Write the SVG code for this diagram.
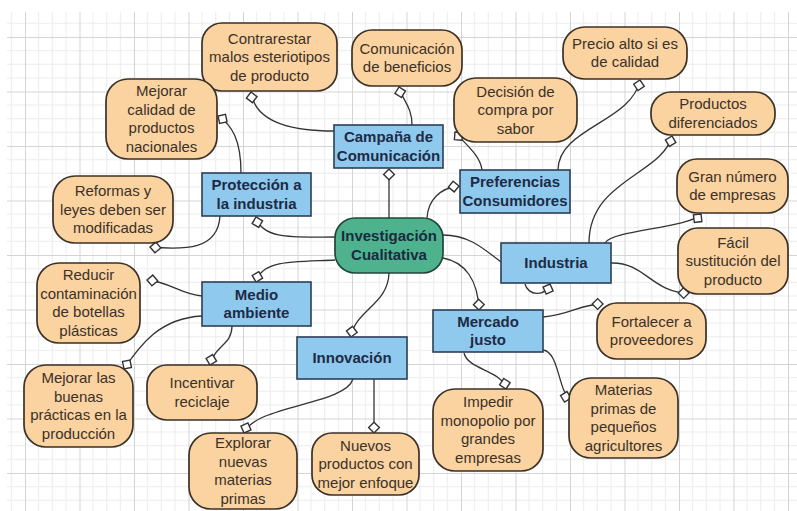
<svg xmlns="http://www.w3.org/2000/svg" width="797" height="511" viewBox="0 0 797 511">
<defs>
<pattern id="grid" patternUnits="userSpaceOnUse" x="25" y="37" width="54.5" height="54.5">
<path d="M13.6,0V54.5M27.25,0V54.5M40.9,0V54.5M0,13.6H54.5M0,27.25H54.5M0,40.9H54.5" stroke="#ebebeb" stroke-width="1" fill="none"/>
<path d="M0.5,0V54.5M0,0.5H54.5" stroke="#d4d4d4" stroke-width="1" fill="none"/>
</pattern>
<marker id="dia" markerUnits="userSpaceOnUse" markerWidth="14" markerHeight="14" viewBox="-1 -1 13 12" refX="10" refY="5" orient="auto">
<path d="M0,5 L5,0 L10,5 L5,10 Z" fill="#fff" stroke="#333" stroke-width="1.3"/>
</marker>
</defs>
<style>
.leaf rect{fill:#fbd3a0;stroke:#3b3127;stroke-width:1.7}
.leaf text{font-family:"Liberation Sans",Arial,sans-serif;font-size:15px;fill:#3a3129;text-anchor:middle}
.topic rect{fill:#90c9ee;stroke:#2c3f55;stroke-width:1.6}
.topic text{font-family:"Liberation Sans",Arial,sans-serif;font-size:15px;font-weight:bold;fill:#1d2b45;text-anchor:middle}
.hub rect{fill:#4fb28f;stroke:#24443a;stroke-width:1.7}
.hub text{font-family:"Liberation Sans",Arial,sans-serif;font-size:15px;font-weight:bold;fill:#1a2a40;text-anchor:middle}
#connectors path{fill:none;stroke:#333;stroke-width:1.3}
#connectors path.m{marker-end:url(#dia)}
</style>
<rect x="0" y="0" width="797" height="511" fill="#fff"/>
<rect x="7" y="12" width="790" height="499" fill="url(#grid)"/>

<g id="connectors">
<path class="m" d="M334,131 C290,131 255,122 251,92"/>
<path class="m" d="M412,125 C412,106 402,100 399,87"/>
<path class="m" d="M389,218 L389,169"/>
<path class="m" d="M482,170 C480,155 466,145 455,132"/>
<path class="m" d="M427,218 C428,200 440,188 459,186"/>
<path class="m" d="M558,170 C558,128 632,122 640,80"/>
<path class="m" d="M589,243 C589,180 662,175 672,136"/>
<path class="m" d="M605,243 C612,230 690,228 701,214"/>
<path class="m" d="M611,263 C645,262 652,293 689,293"/>
<path d="M443,235 C470,235 485,250 501,262"/>
<path class="m" d="M525,284 C528,296 545,297 550,284"/>
<path class="m" d="M443,258 C465,262 478,280 479,310"/>
<path class="m" d="M543,317 C570,315 580,304 603,304"/>
<path class="m" d="M543,350 C560,352 558,395 571,398"/>
<path class="m" d="M464,353 C468,370 502,370 506,389"/>
<path class="m" d="M389,273 C388,305 355,310 351,337"/>
<path class="m" d="M374,379 L374,433"/>
<path class="m" d="M353,379 C345,405 255,405 244,433"/>
<path class="m" d="M335,260 C290,262 262,260 256,282"/>
<path class="m" d="M202,296 C180,294 170,282 147,280"/>
<path class="m" d="M202,316 C160,318 140,345 124,369"/>
<path class="m" d="M232,326 C232,345 215,345 210,365"/>
<path class="m" d="M335,237 C295,237 262,240 256,217"/>
<path class="m" d="M241,173 C241,140 232,125 218,116"/>
<path class="m" d="M220,216 C218,250 185,250 150,247"/>
</g>

<g id="hub" class="hub"><rect x="335" y="218" width="108" height="55" rx="20"/><text x="389" y="241">Investigación</text><text x="389" y="259.5">Cualitativa</text></g>

<g id="campana" class="topic"><rect x="334" y="125" width="109" height="43"/><text x="388.5" y="142">Campaña de</text><text x="388.5" y="160.5">Comunicación</text></g>
<g id="proteccion" class="topic"><rect x="202" y="173" width="109" height="43"/><text x="256.5" y="190">Protección a</text><text x="256.5" y="208.5">la industria</text></g>
<g id="preferencias" class="topic"><rect x="460" y="170" width="110" height="43"/><text x="515" y="187">Preferencias</text><text x="515" y="205.5">Consumidores</text></g>
<g id="industria" class="topic"><rect x="501" y="243" width="110" height="40"/><text x="556" y="268">Industria</text></g>
<g id="medio" class="topic"><rect x="202" y="282" width="109" height="44"/><text x="256.5" y="299.5">Medio</text><text x="256.5" y="318">ambiente</text></g>
<g id="innovacion" class="topic"><rect x="297" y="337" width="110" height="42"/><text x="352" y="363">Innovación</text></g>
<g id="mercado" class="topic"><rect x="433" y="310" width="110" height="42"/><text x="488" y="326.5">Mercado</text><text x="488" y="345">justo</text></g>

<g id="contrarestar" class="leaf"><rect x="202" y="23" width="135" height="68" rx="20"/><text x="269.5" y="43.5">Contrarestar</text><text x="269.5" y="62">malos esteriotipos</text><text x="269.5" y="80.5">de producto</text></g>
<g id="comunicacion" class="leaf"><rect x="352" y="30" width="110" height="56" rx="20"/><text x="407" y="53.5">Comunicación</text><text x="407" y="72">de beneficios</text></g>
<g id="mejorar-calidad" class="leaf"><rect x="106" y="79" width="111" height="80" rx="22"/><text x="161.5" y="96">Mejorar</text><text x="161.5" y="114.5">calidad de</text><text x="161.5" y="133">productos</text><text x="161.5" y="151.5">nacionales</text></g>
<g id="reformas" class="leaf"><rect x="53" y="176" width="120" height="67" rx="22"/><text x="113" y="196">Reformas y</text><text x="113" y="214.5">leyes deben ser</text><text x="113" y="233">modificadas</text></g>
<g id="decision" class="leaf"><rect x="454" y="78" width="123" height="64" rx="22"/><text x="515.5" y="96.5">Decisión de</text><text x="515.5" y="115">compra por</text><text x="515.5" y="133.5">sabor</text></g>
<g id="precio" class="leaf"><rect x="563" y="27" width="124" height="52" rx="22"/><text x="625" y="48.5">Precio alto si es</text><text x="625" y="67">de calidad</text></g>
<g id="productos-dif" class="leaf"><rect x="651" y="92" width="124" height="43" rx="20"/><text x="713" y="109">Productos</text><text x="713" y="127.5">diferenciados</text></g>
<g id="gran-numero" class="leaf"><rect x="677" y="159" width="111" height="54" rx="20"/><text x="732.5" y="181.5">Gran número</text><text x="732.5" y="200">de empresas</text></g>
<g id="facil" class="leaf"><rect x="678" y="228" width="110" height="66" rx="20"/><text x="733" y="247.5">Fácil</text><text x="733" y="266">sustitución del</text><text x="733" y="284.5">producto</text></g>
<g id="fortalecer" class="leaf"><rect x="597" y="303" width="109" height="56" rx="20"/><text x="651.5" y="326.5">Fortalecer a</text><text x="651.5" y="345">proveedores</text></g>
<g id="materias" class="leaf"><rect x="569" y="378" width="109" height="80" rx="22"/><text x="623.5" y="395">Materias</text><text x="623.5" y="413.5">primas de</text><text x="623.5" y="432">pequeños</text><text x="623.5" y="450.5">agricultores</text></g>
<g id="impedir" class="leaf"><rect x="433" y="389" width="110" height="82" rx="22"/><text x="488" y="407">Impedir</text><text x="488" y="425.5">monopolio por</text><text x="488" y="444">grandes</text><text x="488" y="462.5">empresas</text></g>
<g id="nuevos" class="leaf"><rect x="312" y="433" width="107" height="62" rx="20"/><text x="365.5" y="450.5">Nuevos</text><text x="365.5" y="469">productos con</text><text x="365.5" y="487.5">mejor enfoque</text></g>
<g id="explorar" class="leaf"><rect x="189" y="433" width="108" height="76" rx="22"/><text x="243" y="448">Explorar</text><text x="243" y="466.5">nuevas</text><text x="243" y="485">materias</text><text x="243" y="503.5">primas</text></g>
<g id="incentivar" class="leaf"><rect x="147" y="365" width="110" height="55" rx="20"/><text x="202" y="388">Incentivar</text><text x="202" y="406.5">reciclaje</text></g>
<g id="mejorar-buenas" class="leaf"><rect x="24" y="365" width="109" height="82" rx="22"/><text x="78.5" y="383">Mejorar las</text><text x="78.5" y="401.5">buenas</text><text x="78.5" y="420">prácticas en la</text><text x="78.5" y="438.5">producción</text></g>
<g id="reducir" class="leaf"><rect x="37" y="263" width="103" height="80" rx="22"/><text x="88.5" y="280">Reducir</text><text x="88.5" y="298.5">contaminación</text><text x="88.5" y="317">de botellas</text><text x="88.5" y="335.5">plásticas</text></g>
</svg>
